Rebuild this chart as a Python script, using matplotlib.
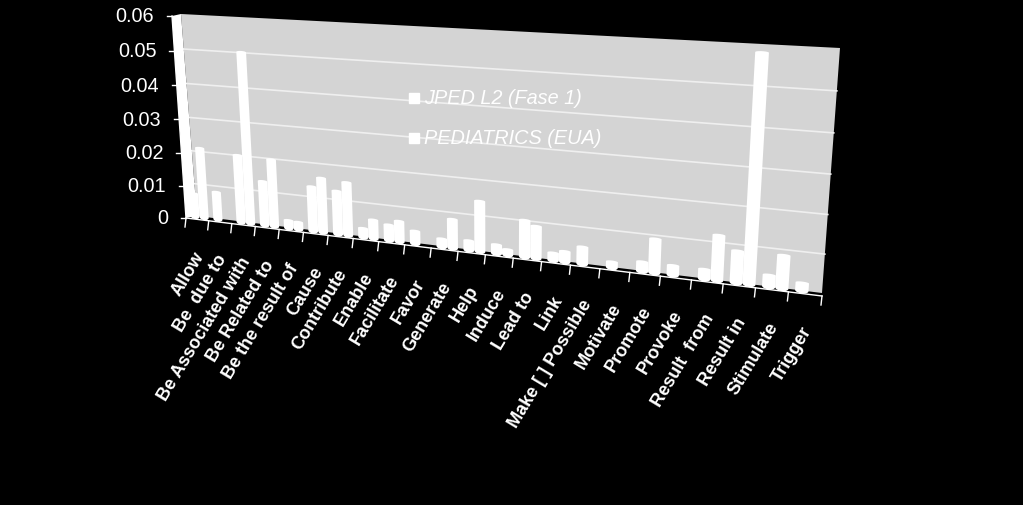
import numpy as np
import matplotlib
matplotlib.use("Agg")
import matplotlib.pyplot as plt

plt.rcParams["font.family"] = ["Liberation Sans", "DejaVu Sans"]

categories = ["Allow", "Be  due to", "Be Associated with", "Be Related to",
              "Be the result of", "Cause", "Contribute", "Enable", "Facilitate",
              "Favor", "Generate", "Help", "Induce", "Lead to", "Link",
              "Make [ ] Possible", "Motivate", "Promote", "Provoke",
              "Result  from", "Result in", "Stimulate", "Trigger"]
jped = [0.007, 0.0082, 0.02, 0.013, 0.0022, 0.013, 0.0125, 0.0025, 0.0044, 0.0035,
        0.0022, 0.0026, 0.0024, 0.0101, 0.002, 0.0046, 0.0015, 0.0025, 0.0025,
        0.0025, 0.0083, 0.003, 0.002]
pediatrics = [0.021, 0, 0.05, 0.0197, 0.002, 0.0158, 0.0153, 0.0053, 0.0058, 0,
              0.0081, 0.014, 0.0014, 0.0088, 0.0028, 0, 0, 0.009, 0, 0.0118,
              0.0578, 0.0085, 0]
y_ticks = [0, 0.01, 0.02, 0.03, 0.04, 0.05, 0.06]
y_tick_labels = ["0", "0.01", "0.02", "0.03", "0.04", "0.05", "0.06"]
legend_labels = ["JPED L2 (Fase 1)", "PEDIATRICS (EUA)"]

n = len(categories)
y_max = y_ticks[-1]


def homography(corners):
    # corners: pixel positions of (0,0), (n,0), (0,ymax), (n,ymax)
    src = [(0, 0), (n, 0), (0, y_max), (n, y_max)]
    A, b = [], []
    for (u, v), (px, py) in zip(src, corners):
        A.append([u, v, 1, 0, 0, 0, -u * px, -v * px])
        A.append([0, 0, 0, u, v, 1, -u * py, -v * py])
        b += [px, py]
    return np.append(np.linalg.solve(np.array(A), np.array(b)), 1).reshape(3, 3)


def project(H, u, v):
    u, v = np.asarray(u, float), np.asarray(v, float)
    w = H[2, 0] * u + H[2, 1] * v + H[2, 2]
    return (H[0, 0] * u + H[0, 1] * v + H[0, 2]) / w, (H[1, 0] * u + H[1, 1] * v + H[1, 2]) / w


# front plane (axes), column plane a little behind it, back plane (wall)
front = homography([(186, 218), (822, 296), (172, 16), (840, 50)])
cols = homography([(186, 215), (822, 293), (172, 13), (840, 47)])
back = homography([(197, 216), (822, 293), (181, 14), (840, 48)])

fig = plt.figure(figsize=(10.23, 5.05), dpi=100, facecolor="black")
ax = fig.add_axes([0, 0, 1, 1])
ax.set_xlim(0, 1023)
ax.set_ylim(505, 0)
ax.axis("off")

# back wall
wx, wy = project(back, [0, n, n, 0], [0, 0, y_max, y_max])
ax.fill(wx, wy, color="#d4d4d4", lw=0, zorder=1)
for t in y_ticks[1:-1]:
    gx, gy = project(back, [0, n], [t, t])
    ax.plot(gx, gy, color="#efefef", lw=1.2, zorder=2)

# white side wall between the value axis and the back wall
fx, fy = project(front, [0, 0], [0, y_max])
bx, by = project(back, [0, 0], [y_max, 0])
ax.fill(np.r_[fx, bx], np.r_[fy, by], color="white", lw=0, zorder=2)

# axes
ax.plot(*project(front, [0, n], [0, 0]), color="white", lw=1, zorder=3)
ax.plot(fx, fy, color="white", lw=1, zorder=3)
for i in range(n + 1):
    tx, ty = project(front, i, 0)
    ax.plot([tx, tx - 1], [ty, ty + 9], color="white", lw=1, zorder=3)
for t, lab in zip(y_ticks, y_tick_labels):
    tx, ty = project(front, 0, t)
    ax.plot([tx - 5, tx], [ty, ty], color="white", lw=1, zorder=3)
    ax.text(tx - 18, ty + 1, lab, color="white", fontsize=14.3, ha="right", va="center", zorder=5)


def column(left, width, value, zorder=4):
    # cylinder: straight sides with rounded caps
    if value <= 0:
        return
    t = np.linspace(np.pi, 0, 15)
    us = left + width / 2 + np.cos(t) * width / 2
    x0, y0 = project(cols, us, 0 * us)
    x1, y1 = project(cols, us[::-1], value + 0 * us)
    xs = np.r_[x0, x1]
    ys = np.r_[y0 + np.sin(t) * 3, y1 - np.sin(t) * 1.2]
    ax.fill(xs, ys, color="white", lw=0, zorder=zorder)


bar_w = 0.4
for i in range(n):
    column(i + 0.2, bar_w, jped[i])
    column(i + 0.6, bar_w, pediatrics[i])

# category labels
for i, lab in enumerate(categories):
    tx, ty = project(front, i + 0.5, 0)
    ax.text(tx + 3, ty + 34, lab, color="white", fontsize=13, fontweight="bold",
            rotation=59, rotation_mode="anchor", ha="right", va="center", zorder=5)

# legend
for lab, ly in zip(legend_labels, [98, 138]):
    ax.plot([414], [ly], marker="s", ms=7, color="white", lw=0, zorder=5)
    ax.text(424, ly + 1, lab, color="white", fontsize=14.3, fontstyle="italic", va="center", zorder=5)

fig.savefig("out.png", dpi=100, facecolor="black")
